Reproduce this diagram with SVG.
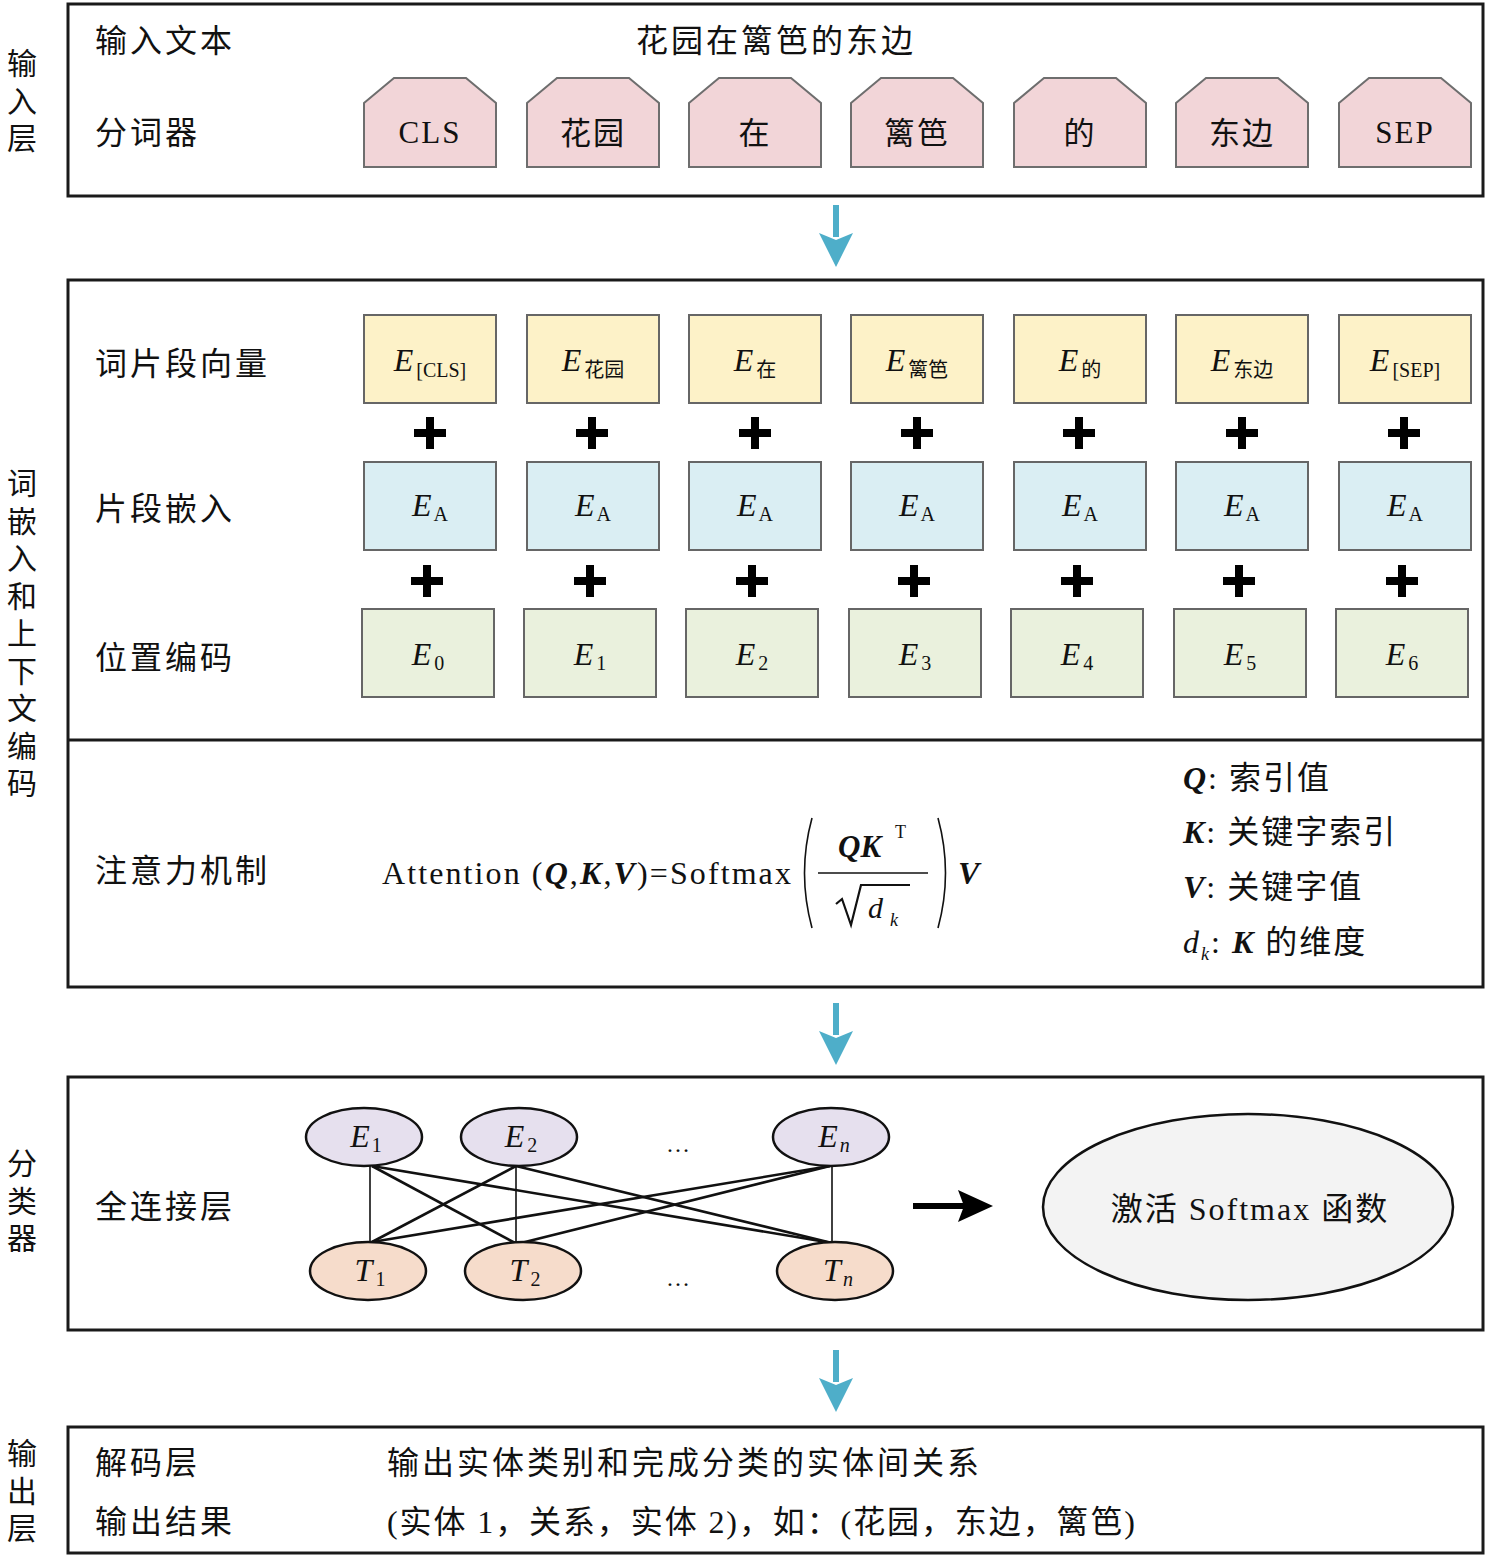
<svg xmlns="http://www.w3.org/2000/svg" width="1487" height="1557" viewBox="0 0 1487 1557">
<style>
  .frame{fill:#fff;stroke:#1a1a1a;stroke-width:3}
  .cjk{font-family:"Liberation Serif","Noto Sans CJK SC",serif;font-size:32px;fill:#111;letter-spacing:3px}
  .side{font-family:"Noto Sans CJK SC",sans-serif;font-size:30px;fill:#111;writing-mode:vertical-rl;letter-spacing:7.5px}
  .tok{fill:#f2d5d8;stroke:#6e6e6e;stroke-width:2}
  .tokt{font-family:"Liberation Serif","Noto Sans CJK SC",serif;font-size:31px;fill:#111;text-anchor:middle;letter-spacing:2px}
  .ey{fill:#fdf2c8;stroke:#666;stroke-width:2}
  .eb{fill:#daeef3;stroke:#666;stroke-width:2}
  .eg{fill:#eaf1dd;stroke:#666;stroke-width:2}
  .et{font-family:"Liberation Serif","Noto Sans CJK SC",serif;fill:#111;text-anchor:middle}
  .E{font-style:italic;font-size:32px}
  .sub{font-size:20px;font-style:normal}
  .plus{stroke:#000;stroke-width:8;stroke-linecap:butt}
  .math{font-family:"Liberation Serif","Noto Sans CJK SC",serif;fill:#111}
  .bi{font-weight:bold;font-style:italic}
  .it{font-style:italic}
  .fe{fill:#e6e0ee;stroke:#111;stroke-width:2.5}
  .ft{fill:#f6dccb;stroke:#111;stroke-width:2.5}
  .thin{stroke:#111;stroke-width:1.6}
  .thick{stroke:#111;stroke-width:2.6}
  .blue{fill:#4eaec9}
</style>

<!-- side labels -->
<g id="side-labels">
  <text class="side" x="22" y="48">输入层</text>
  <text class="side" x="22" y="468">词嵌入和上下文编码</text>
  <text class="side" x="22" y="1148">分类器</text>
  <text class="side" x="22" y="1438">输出层</text>
</g>

<!-- input layer -->
<g id="input-layer">
  <rect class="frame" x="68" y="4" width="1415" height="192"/>
  <text class="cjk" x="95" y="52">输入文本</text>
  <text class="cjk" x="636" y="52">花园在篱笆的东边</text>
  <text class="cjk" x="95" y="144">分词器</text>
</g>
<g id="tok-cls" transform="translate(364,0)"><polygon class="tok" points="0,103 30,78 102,78 132,103 132,167 0,167"/><text class="tokt" x="66" y="143">CLS</text></g>
<g id="tok-huayuan" transform="translate(527,0)"><polygon class="tok" points="0,103 30,78 102,78 132,103 132,167 0,167"/><text class="tokt" x="66" y="144">花园</text></g>
<g id="tok-zai" transform="translate(689,0)"><polygon class="tok" points="0,103 30,78 102,78 132,103 132,167 0,167"/><text class="tokt" x="66" y="144">在</text></g>
<g id="tok-liba" transform="translate(851,0)"><polygon class="tok" points="0,103 30,78 102,78 132,103 132,167 0,167"/><text class="tokt" x="66" y="144">篱笆</text></g>
<g id="tok-de" transform="translate(1014,0)"><polygon class="tok" points="0,103 30,78 102,78 132,103 132,167 0,167"/><text class="tokt" x="66" y="144">的</text></g>
<g id="tok-dongbian" transform="translate(1176,0)"><polygon class="tok" points="0,103 30,78 102,78 132,103 132,167 0,167"/><text class="tokt" x="66" y="144">东边</text></g>
<g id="tok-sep" transform="translate(1339,0)"><polygon class="tok" points="0,103 30,78 102,78 132,103 132,167 0,167"/><text class="tokt" x="66" y="143">SEP</text></g>

<!-- embedding layer -->
<g id="embedding-layer">
  <rect class="frame" x="68" y="280" width="1415" height="707"/>
  <line x1="68" y1="740" x2="1483" y2="740" stroke="#1a1a1a" stroke-width="3"/>
  <text class="cjk" x="95" y="375">词片段向量</text>
  <text class="cjk" x="95" y="520">片段嵌入</text>
  <text class="cjk" x="95" y="669">位置编码</text>
  <text class="cjk" x="95" y="882">注意力机制</text>
</g>

<g id="tokemb-cls"><rect class="ey" x="364" y="315" width="132" height="88"/><text class="et" x="430" y="371"><tspan class="E">E</tspan><tspan class="sub" dx="3" dy="6">[CLS]</tspan></text></g>
<g id="tokemb-huayuan"><rect class="ey" x="527" y="315" width="132" height="88"/><text class="et" x="593" y="371"><tspan class="E">E</tspan><tspan class="sub" dx="3" dy="6">花园</tspan></text></g>
<g id="tokemb-zai"><rect class="ey" x="689" y="315" width="132" height="88"/><text class="et" x="755" y="371"><tspan class="E">E</tspan><tspan class="sub" dx="3" dy="6">在</tspan></text></g>
<g id="tokemb-liba"><rect class="ey" x="851" y="315" width="132" height="88"/><text class="et" x="917" y="371"><tspan class="E">E</tspan><tspan class="sub" dx="3" dy="6">篱笆</tspan></text></g>
<g id="tokemb-de"><rect class="ey" x="1014" y="315" width="132" height="88"/><text class="et" x="1080" y="371"><tspan class="E">E</tspan><tspan class="sub" dx="3" dy="6">的</tspan></text></g>
<g id="tokemb-dongbian"><rect class="ey" x="1176" y="315" width="132" height="88"/><text class="et" x="1242" y="371"><tspan class="E">E</tspan><tspan class="sub" dx="3" dy="6">东边</tspan></text></g>
<g id="tokemb-sep"><rect class="ey" x="1339" y="315" width="132" height="88"/><text class="et" x="1405" y="371"><tspan class="E">E</tspan><tspan class="sub" dx="3" dy="6">[SEP]</tspan></text></g>

<g id="segemb-0"><rect class="eb" x="364" y="462" width="132" height="88"/><text class="et" x="430" y="516"><tspan class="E">E</tspan><tspan class="sub" dx="2" dy="5">A</tspan></text></g>
<g id="segemb-1"><rect class="eb" x="527" y="462" width="132" height="88"/><text class="et" x="593" y="516"><tspan class="E">E</tspan><tspan class="sub" dx="2" dy="5">A</tspan></text></g>
<g id="segemb-2"><rect class="eb" x="689" y="462" width="132" height="88"/><text class="et" x="755" y="516"><tspan class="E">E</tspan><tspan class="sub" dx="2" dy="5">A</tspan></text></g>
<g id="segemb-3"><rect class="eb" x="851" y="462" width="132" height="88"/><text class="et" x="917" y="516"><tspan class="E">E</tspan><tspan class="sub" dx="2" dy="5">A</tspan></text></g>
<g id="segemb-4"><rect class="eb" x="1014" y="462" width="132" height="88"/><text class="et" x="1080" y="516"><tspan class="E">E</tspan><tspan class="sub" dx="2" dy="5">A</tspan></text></g>
<g id="segemb-5"><rect class="eb" x="1176" y="462" width="132" height="88"/><text class="et" x="1242" y="516"><tspan class="E">E</tspan><tspan class="sub" dx="2" dy="5">A</tspan></text></g>
<g id="segemb-6"><rect class="eb" x="1339" y="462" width="132" height="88"/><text class="et" x="1405" y="516"><tspan class="E">E</tspan><tspan class="sub" dx="2" dy="5">A</tspan></text></g>

<g id="posemb-0"><rect class="eg" x="362" y="609" width="132" height="88"/><text class="et" x="428" y="665"><tspan class="E">E</tspan><tspan class="sub" dx="3" dy="5">0</tspan></text></g>
<g id="posemb-1"><rect class="eg" x="524" y="609" width="132" height="88"/><text class="et" x="590" y="665"><tspan class="E">E</tspan><tspan class="sub" dx="3" dy="5">1</tspan></text></g>
<g id="posemb-2"><rect class="eg" x="686" y="609" width="132" height="88"/><text class="et" x="752" y="665"><tspan class="E">E</tspan><tspan class="sub" dx="3" dy="5">2</tspan></text></g>
<g id="posemb-3"><rect class="eg" x="849" y="609" width="132" height="88"/><text class="et" x="915" y="665"><tspan class="E">E</tspan><tspan class="sub" dx="3" dy="5">3</tspan></text></g>
<g id="posemb-4"><rect class="eg" x="1011" y="609" width="132" height="88"/><text class="et" x="1077" y="665"><tspan class="E">E</tspan><tspan class="sub" dx="3" dy="5">4</tspan></text></g>
<g id="posemb-5"><rect class="eg" x="1174" y="609" width="132" height="88"/><text class="et" x="1240" y="665"><tspan class="E">E</tspan><tspan class="sub" dx="3" dy="5">5</tspan></text></g>
<g id="posemb-6"><rect class="eg" x="1336" y="609" width="132" height="88"/><text class="et" x="1402" y="665"><tspan class="E">E</tspan><tspan class="sub" dx="3" dy="5">6</tspan></text></g>

<g id="plus-signs" class="plus">
  <path d="M414,433h32M430,417v32 M576,433h32M592,417v32 M739,433h32M755,417v32 M901,433h32M917,417v32 M1063,433h32M1079,417v32 M1226,433h32M1242,417v32 M1388,433h32M1404,417v32"/>
  <path d="M411,581h32M427,565v32 M574,581h32M590,565v32 M736,581h32M752,565v32 M898,581h32M914,565v32 M1061,581h32M1077,565v32 M1223,581h32M1239,565v32 M1386,581h32M1402,565v32"/>
</g>

<!-- attention formula -->
<g id="attention-formula" class="math">
  <text x="382" y="884" font-size="32" letter-spacing="2.1">Attention (<tspan class="bi">Q</tspan>,<tspan class="bi">K</tspan>,<tspan class="bi">V</tspan>)=Softmax</text>
  <path d="M812,818 Q797,873 812,928" fill="none" stroke="#111" stroke-width="1.6"/>
  <path d="M938,818 Q953,873 938,928" fill="none" stroke="#111" stroke-width="1.6"/>
  <text x="838" y="857" font-size="31" class="bi">QK</text>
  <text x="895" y="838" font-size="18">T</text>
  <line x1="818" y1="873" x2="928" y2="873" stroke="#111" stroke-width="1.5"/>
  <polyline points="836,904 842,899 851,925 861,885 910,885" fill="none" stroke="#111" stroke-width="2.2"/>
  <text x="868" y="918" font-size="30" class="it">d</text>
  <text x="890" y="926" font-size="18" class="it">k</text>
  <text x="958" y="884" font-size="32" class="bi">V</text>
</g>
<g id="attention-legend" class="math" font-size="32">
  <text x="1183" y="789" letter-spacing="2"><tspan class="bi">Q</tspan>: 索引值</text>
  <text x="1183" y="843" letter-spacing="2"><tspan class="bi">K</tspan>: 关键字索引</text>
  <text x="1183" y="898" letter-spacing="2"><tspan class="bi">V</tspan>: 关键字值</text>
  <text x="1183" y="953" letter-spacing="2"><tspan class="it">d</tspan><tspan class="it" font-size="18" dy="7">k</tspan><tspan dy="-7">: </tspan><tspan class="bi">K</tspan> 的维度</text>
</g>

<!-- classifier -->
<g id="classifier">
  <rect class="frame" x="68" y="1077" width="1415" height="253"/>
  <text class="cjk" x="95" y="1218">全连接层</text>
  <text class="math" x="678" y="1152" font-size="24" text-anchor="middle">…</text>
  <text class="math" x="678" y="1286" font-size="24" text-anchor="middle">…</text>
</g>

<g id="connectors">
  <g id="dense-links">
    <line class="thin" x1="370" y1="1166" x2="370" y2="1242"/>
    <line class="thin" x1="516" y1="1166" x2="516" y2="1243"/>
    <line class="thin" x1="832" y1="1166" x2="832" y2="1243"/>
    <line class="thick" x1="372" y1="1166" x2="517" y2="1244"/>
    <line class="thick" x1="372" y1="1166" x2="832" y2="1243"/>
    <line class="thick" x1="516" y1="1166" x2="372" y2="1242"/>
    <line class="thick" x1="516" y1="1166" x2="832" y2="1243"/>
    <line class="thick" x1="830" y1="1166" x2="372" y2="1242"/>
    <line class="thick" x1="830" y1="1166" x2="517" y2="1244"/>
  </g>
  <g id="flow-arrows">
    <rect class="blue" x="833" y="205" width="6" height="32"/>
    <polygon class="blue" points="819,233 836,240 853,233 836,267"/>
    <rect class="blue" x="833" y="1003" width="6" height="32"/>
    <polygon class="blue" points="819,1031 836,1038 853,1031 836,1065"/>
    <rect class="blue" x="833" y="1350" width="6" height="32"/>
    <polygon class="blue" points="819,1378 836,1385 853,1378 836,1412"/>
  </g>
  <g id="to-softmax">
    <rect x="913" y="1203" width="52" height="6" fill="#000"/>
    <polygon points="958,1190 993,1206 958,1222 964,1206" fill="#000"/>
  </g>
</g>

<g id="node-E1"><ellipse class="fe" cx="364" cy="1137" rx="58" ry="29"/><text class="et" x="366" y="1147"><tspan class="E" font-size="30">E</tspan><tspan class="sub" dx="2" dy="5">1</tspan></text></g>
<g id="node-E2"><ellipse class="fe" cx="519" cy="1137" rx="58" ry="29"/><text class="et" x="521" y="1147"><tspan class="E" font-size="30">E</tspan><tspan class="sub" dx="3" dy="5">2</tspan></text></g>
<g id="node-En"><ellipse class="fe" cx="831" cy="1137" rx="58" ry="29"/><text class="et" x="834" y="1147"><tspan class="E" font-size="30">E</tspan><tspan class="sub it" dx="2" dy="5">n</tspan></text></g>
<g id="node-T1"><ellipse class="ft" cx="368" cy="1271" rx="58" ry="29"/><text class="et" x="370" y="1281"><tspan class="E" font-size="30">T</tspan><tspan class="sub" dx="3" dy="5">1</tspan></text></g>
<g id="node-T2"><ellipse class="ft" cx="523" cy="1271" rx="58" ry="29"/><text class="et" x="525" y="1281"><tspan class="E" font-size="30">T</tspan><tspan class="sub" dx="3" dy="5">2</tspan></text></g>
<g id="node-Tn"><ellipse class="ft" cx="835" cy="1271" rx="58" ry="29"/><text class="et" x="838" y="1281"><tspan class="E" font-size="30">T</tspan><tspan class="sub it" dx="2" dy="5">n</tspan></text></g>

<g id="node-softmax"><ellipse cx="1248" cy="1207" rx="205" ry="93" fill="#f3f3f3" stroke="#111" stroke-width="2.5"/><text class="math" x="1250" y="1220" font-size="32" text-anchor="middle" letter-spacing="2">激活 Softmax 函数</text></g>

<!-- output layer -->
<g id="output-layer">
  <rect class="frame" x="68" y="1427" width="1415" height="126"/>
  <text class="cjk" x="95" y="1474">解码层</text>
  <text class="cjk" x="95" y="1533">输出结果</text>
  <text class="cjk" x="387" y="1474">输出实体类别和完成分类的实体间关系</text>
  <text class="cjk" x="387" y="1533" style="letter-spacing:1.9px">(实体 1，关系，实体 2)，如：(花园，东边，篱笆)</text>
</g>
</svg>
